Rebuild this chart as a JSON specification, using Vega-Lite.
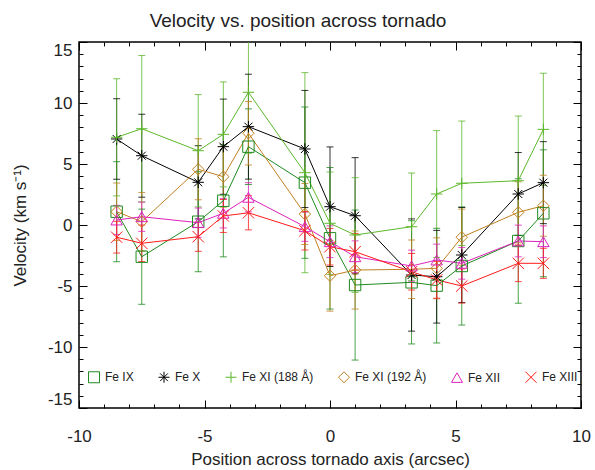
{
  "$schema": "https://vega.github.io/schema/vega-lite/v6.json",
  "width": 502,
  "height": 366,
  "autosize": {"type": "none"},
  "padding": {"left": 79, "top": 42, "right": 14, "bottom": 62},
  "background": "white",
  "config": {
    "view": {"stroke": "black", "strokeWidth": 1.5},
    "font": "Liberation Sans"
  },
  "title": {
    "text": "Velocity vs. position across tornado",
    "font": "Liberation Sans",
    "fontSize": 19,
    "fontWeight": "normal",
    "color": "#222222",
    "anchor": "middle",
    "frame": "group",
    "dx": -32,
    "offset": 10
  },
  "data": {
    "values": [
      {"ion": "Fe IX", "x": -8.5, "v": 1.09, "lo": -3.01, "hi": 5.19},
      {"ion": "Fe IX", "x": -7.5, "v": -2.6, "lo": -6.5, "hi": 1.3},
      {"ion": "Fe IX", "x": -5.25, "v": 0.27, "lo": -3.83, "hi": 4.37},
      {"ion": "Fe IX", "x": -4.25, "v": 1.99, "lo": -2.61, "hi": 6.59},
      {"ion": "Fe IX", "x": -3.25, "v": 6.42, "lo": 3.32, "hi": 9.52},
      {"ion": "Fe IX", "x": -1, "v": 3.47, "lo": -2.73, "hi": 9.67},
      {"ion": "Fe IX", "x": 0, "v": -1.09, "lo": -6.89, "hi": 4.71},
      {"ion": "Fe IX", "x": 1, "v": -4.92, "lo": -11.07, "hi": 1.23},
      {"ion": "Fe IX", "x": 3.25, "v": -4.7, "lo": -9.75, "hi": 0.35},
      {"ion": "Fe IX", "x": 4.25, "v": -4.97, "lo": -9.67, "hi": -0.27},
      {"ion": "Fe IX", "x": 5.25, "v": -3.36, "lo": -8.2, "hi": 1.48},
      {"ion": "Fe IX", "x": 7.5, "v": -1.31, "lo": -6.41, "hi": 3.79},
      {"ion": "Fe IX", "x": 8.5, "v": 0.96, "lo": -4.24, "hi": 6.16},

      {"ion": "Fe X", "x": -8.5, "v": 7.05, "lo": 3.75, "hi": 10.35},
      {"ion": "Fe X", "x": -7.5, "v": 5.68, "lo": 2.28, "hi": 9.08},
      {"ion": "Fe X", "x": -5.25, "v": 3.5, "lo": 0.5, "hi": 6.5},
      {"ion": "Fe X", "x": -4.25, "v": 6.42, "lo": 2.52, "hi": 10.32},
      {"ion": "Fe X", "x": -3.25, "v": 8.06, "lo": 3.76, "hi": 12.36},
      {"ion": "Fe X", "x": -1, "v": 6.23, "lo": 1.43, "hi": 11.03},
      {"ion": "Fe X", "x": 0, "v": 1.5, "lo": -3.4, "hi": 6.4},
      {"ion": "Fe X", "x": 1, "v": 0.76, "lo": -4.0, "hi": 5.52},
      {"ion": "Fe X", "x": 3.25, "v": -4.1, "lo": -8.7, "hi": 0.5},
      {"ion": "Fe X", "x": 4.25, "v": -4.24, "lo": -8.04, "hi": -0.44},
      {"ion": "Fe X", "x": 5.25, "v": -2.46, "lo": -6.36, "hi": 1.44},
      {"ion": "Fe X", "x": 7.5, "v": 2.54, "lo": -0.86, "hi": 5.94},
      {"ion": "Fe X", "x": 8.5, "v": 3.47, "lo": 0.11, "hi": 6.83},

      {"ion": "Fe XI (188 Å)", "x": -8.5, "v": 7.19, "lo": 2.39, "hi": 11.99},
      {"ion": "Fe XI (188 Å)", "x": -7.5, "v": 7.89, "lo": 1.89, "hi": 13.89},
      {"ion": "Fe XI (188 Å)", "x": -5.25, "v": 6.09, "lo": 1.49, "hi": 10.69},
      {"ion": "Fe XI (188 Å)", "x": -4.25, "v": 7.43, "lo": 3.13, "hi": 11.73},
      {"ion": "Fe XI (188 Å)", "x": -3.25, "v": 10.88, "lo": 5.88, "hi": 15.88},
      {"ion": "Fe XI (188 Å)", "x": -1, "v": 4.29, "lo": -3.91, "hi": 12.49},
      {"ion": "Fe XI (188 Å)", "x": 0, "v": 0.14, "lo": -4.06, "hi": 4.34},
      {"ion": "Fe XI (188 Å)", "x": 1, "v": -0.82, "lo": -5.52, "hi": 3.88},
      {"ion": "Fe XI (188 Å)", "x": 3.25, "v": -0.14, "lo": -4.54, "hi": 4.26},
      {"ion": "Fe XI (188 Å)", "x": 4.25, "v": 2.54, "lo": -2.66, "hi": 7.74},
      {"ion": "Fe XI (188 Å)", "x": 5.25, "v": 3.42, "lo": -1.68, "hi": 8.52},
      {"ion": "Fe XI (188 Å)", "x": 7.5, "v": 3.63, "lo": -1.67, "hi": 8.93},
      {"ion": "Fe XI (188 Å)", "x": 8.5, "v": 7.84, "lo": 3.24, "hi": 12.44},

      {"ion": "Fe XI (192 Å)", "x": -8.5, "v": 1.09, "lo": -1.26, "hi": 3.44},
      {"ion": "Fe XI (192 Å)", "x": -7.5, "v": 0.27, "lo": -2.13, "hi": 2.67},
      {"ion": "Fe XI (192 Å)", "x": -5.25, "v": 4.57, "lo": 2.07, "hi": 7.07},
      {"ion": "Fe XI (192 Å)", "x": -4.25, "v": 3.96, "lo": 1.46, "hi": 6.46},
      {"ion": "Fe XI (192 Å)", "x": -3.25, "v": 7.52, "lo": 4.92, "hi": 10.12},
      {"ion": "Fe XI (192 Å)", "x": -1, "v": 0.9, "lo": -1.6, "hi": 3.4},
      {"ion": "Fe XI (192 Å)", "x": 0, "v": -4.16, "lo": -7.06, "hi": -1.26},
      {"ion": "Fe XI (192 Å)", "x": 1, "v": -3.69, "lo": -6.89, "hi": -0.49},
      {"ion": "Fe XI (192 Å)", "x": 3.25, "v": -3.63, "lo": -6.03, "hi": -1.23},
      {"ion": "Fe XI (192 Å)", "x": 4.25, "v": -3.55, "lo": -6.05, "hi": -1.05},
      {"ion": "Fe XI (192 Å)", "x": 5.25, "v": -1.0, "lo": -3.3, "hi": 1.3},
      {"ion": "Fe XI (192 Å)", "x": 7.5, "v": 1.04, "lo": -1.46, "hi": 3.54},
      {"ion": "Fe XI (192 Å)", "x": 8.5, "v": 1.58, "lo": -0.92, "hi": 4.08},

      {"ion": "Fe XII", "x": -8.5, "v": 0.41, "lo": -0.79, "hi": 1.61},
      {"ion": "Fe XII", "x": -7.5, "v": 0.68, "lo": -0.52, "hi": 1.88},
      {"ion": "Fe XII", "x": -5.25, "v": 0.19, "lo": -1.01, "hi": 1.39},
      {"ion": "Fe XII", "x": -4.25, "v": 0.96, "lo": -0.24, "hi": 2.16},
      {"ion": "Fe XII", "x": -3.25, "v": 2.27, "lo": 1.07, "hi": 3.47},
      {"ion": "Fe XII", "x": -1, "v": -0.14, "lo": -1.34, "hi": 1.06},
      {"ion": "Fe XII", "x": 0, "v": -1.37, "lo": -2.67, "hi": -0.07},
      {"ion": "Fe XII", "x": 1, "v": -2.6, "lo": -3.9, "hi": -1.3},
      {"ion": "Fe XII", "x": 3.25, "v": -3.36, "lo": -4.66, "hi": -2.06},
      {"ion": "Fe XII", "x": 4.25, "v": -2.87, "lo": -4.17, "hi": -1.57},
      {"ion": "Fe XII", "x": 5.25, "v": -3.14, "lo": -4.44, "hi": -1.84},
      {"ion": "Fe XII", "x": 7.5, "v": -1.31, "lo": -2.61, "hi": -0.01},
      {"ion": "Fe XII", "x": 8.5, "v": -1.37, "lo": -2.67, "hi": -0.07},

      {"ion": "Fe XIII", "x": -8.5, "v": -1.0, "lo": -2.3, "hi": 0.3},
      {"ion": "Fe XIII", "x": -7.5, "v": -1.5, "lo": -3.0, "hi": 0.0},
      {"ion": "Fe XIII", "x": -5.25, "v": -0.96, "lo": -2.16, "hi": 0.24},
      {"ion": "Fe XIII", "x": -4.25, "v": 0.74, "lo": -0.61, "hi": 2.09},
      {"ion": "Fe XIII", "x": -3.25, "v": 1.0, "lo": -0.4, "hi": 2.4},
      {"ion": "Fe XIII", "x": -1, "v": -0.47, "lo": -2.05, "hi": 1.11},
      {"ion": "Fe XIII", "x": 0, "v": -1.78, "lo": -3.28, "hi": -0.28},
      {"ion": "Fe XIII", "x": 1, "v": -2.19, "lo": -3.69, "hi": -0.69},
      {"ion": "Fe XIII", "x": 3.25, "v": -3.83, "lo": -5.33, "hi": -2.33},
      {"ion": "Fe XIII", "x": 4.25, "v": -4.5, "lo": -6.0, "hi": -3.0},
      {"ion": "Fe XIII", "x": 5.25, "v": -5.0, "lo": -6.4, "hi": -3.6},
      {"ion": "Fe XIII", "x": 7.5, "v": -3.14, "lo": -4.64, "hi": -1.64},
      {"ion": "Fe XIII", "x": 8.5, "v": -3.14, "lo": -4.37, "hi": -1.91}
    ]
  },
  "layer": [
    {
      "mark": {"type": "rule", "strokeWidth": 1, "opacity": 0.8, "clip": true},
      "encoding": {
        "x": {
          "field": "x", "type": "quantitative",
          "scale": {"domain": [-10, 10], "nice": false, "zero": false},
          "axis": {
            "orient": "bottom",
            "values": [-10, -9, -8, -7, -6, -5, -4, -3, -2, -1, 0, 1, 2, 3, 4, 5, 6, 7, 8, 9, 10],
            "labelExpr": "datum.value % 5 === 0 ? '' + datum.value : ''",
            "labelOverlap": false,
            "labelFlush": false,
            "labelFont": "Liberation Sans",
            "labelFontSize": 17,
            "labelColor": "#222222",
            "labelPadding": 28,
            "tickSize": {"condition": {"test": "datum.value % 5 === 0", "value": -8}, "value": -4},
            "tickColor": "black",
            "tickWidth": 1,
            "domain": false,
            "grid": false,
            "title": "Position across tornado axis (arcsec)",
            "titleFont": "Liberation Sans",
            "titleFontSize": 17,
            "titleFontWeight": "normal",
            "titleColor": "#222222",
            "titlePadding": 3
          }
        },
        "y": {
          "field": "lo", "type": "quantitative",
          "scale": {"domain": [-15, 15], "nice": false, "zero": false},
          "axis": {
            "orient": "left",
            "values": [-15, -14, -13, -12, -11, -10, -9, -8, -7, -6, -5, -4, -3, -2, -1, 0, 1, 2, 3, 4, 5, 6, 7, 8, 9, 10, 11, 12, 13, 14, 15],
            "labelExpr": "datum.value % 5 === 0 ? '' + datum.value : ''",
            "labelOverlap": false,
            "labelFlush": true,
            "labelFont": "Liberation Sans",
            "labelFontSize": 17,
            "labelColor": "#222222",
            "labelPadding": 15,
            "tickSize": {"condition": {"test": "datum.value % 5 === 0", "value": -8}, "value": -4},
            "tickColor": "black",
            "tickWidth": 1,
            "domain": false,
            "grid": false,
            "title": "Velocity (km s⁻¹)",
            "titleFont": "Liberation Sans",
            "titleFontSize": 17,
            "titleFontWeight": "normal",
            "titleColor": "#222222",
            "titlePadding": 18
          }
        },
        "y2": {"field": "hi"},
        "color": {"field": "ion", "type": "nominal", "legend": null}
      }
    },
    {
      "transform": [{"fold": ["lo", "hi"], "as": ["end", "cap"]}],
      "mark": {"type": "tick", "orient": "horizontal", "size": 7, "thickness": 1, "opacity": 0.8, "clip": true},
      "encoding": {
        "x": {
          "field": "x", "type": "quantitative",
          "axis": {
            "orient": "top",
            "values": [-10, -9, -8, -7, -6, -5, -4, -3, -2, -1, 0, 1, 2, 3, 4, 5, 6, 7, 8, 9, 10],
            "labels": false,
            "tickSize": {"condition": {"test": "datum.value % 5 === 0", "value": -8}, "value": -4},
            "tickColor": "black",
            "tickWidth": 1,
            "domain": false,
            "grid": false,
            "title": null
          }
        },
        "y": {
          "field": "cap", "type": "quantitative",
          "axis": {
            "orient": "right",
            "values": [-15, -14, -13, -12, -11, -10, -9, -8, -7, -6, -5, -4, -3, -2, -1, 0, 1, 2, 3, 4, 5, 6, 7, 8, 9, 10, 11, 12, 13, 14, 15],
            "labels": false,
            "tickSize": {"condition": {"test": "datum.value % 5 === 0", "value": -8}, "value": -4},
            "tickColor": "black",
            "tickWidth": 1,
            "domain": false,
            "grid": false,
            "title": null
          }
        },
        "color": {"field": "ion", "type": "nominal", "legend": null}
      }
    },
    {
      "mark": {"type": "line", "strokeWidth": 1},
      "encoding": {
        "x": {"field": "x", "type": "quantitative", "axis": null},
        "y": {"field": "v", "type": "quantitative", "axis": null},
        "color": {"field": "ion", "type": "nominal", "legend": null}
      }
    },
    {
      "mark": {"type": "point", "filled": false, "size": 130, "strokeWidth": 1, "opacity": 1},
      "encoding": {
        "x": {"field": "x", "type": "quantitative", "axis": null},
        "y": {"field": "v", "type": "quantitative", "axis": null},
        "color": {
          "field": "ion", "type": "nominal",
          "scale": {
            "domain": ["Fe IX", "Fe X", "Fe XI (188 Å)", "Fe XI (192 Å)", "Fe XII", "Fe XIII"],
            "range": ["#1f8a1f", "#000000", "#5cb82a", "#c08020", "#dd22bb", "#ff1a1a"]
          },
          "legend": {
            "orient": "none",
            "legendX": 9,
            "legendY": 329,
            "direction": "horizontal",
            "columns": 6,
            "columnPadding": 22,
            "padding": 0,
            "title": null,
            "labelFont": "Liberation Sans",
            "labelFontSize": 12,
            "labelColor": "#222222",
            "labelOffset": 5,
            "symbolSize": 121,
            "symbolStrokeWidth": 1
          }
        },
        "shape": {
          "field": "ion", "type": "nominal",
          "scale": {
            "domain": ["Fe IX", "Fe X", "Fe XI (188 Å)", "Fe XI (192 Å)", "Fe XII", "Fe XIII"],
            "range": ["square", "M-1,0L1,0M0,-1L0,1M-0.7,-0.7L0.7,0.7M-0.7,0.7L0.7,-0.7", "M-1,0L1,0M0,-1L0,1", "diamond", "triangle-up", "M-1,-1L1,1M-1,1L1,-1"]
          },
          "legend": {
            "orient": "none",
            "legendX": 9,
            "legendY": 329,
            "direction": "horizontal",
            "columns": 6,
            "columnPadding": 22,
            "padding": 0,
            "title": null
          }
        }
      }
    }
  ],
  "resolve": {
    "axis": {"x": "independent", "y": "independent"},
    "legend": {"color": "independent", "shape": "independent"}
  }
}
